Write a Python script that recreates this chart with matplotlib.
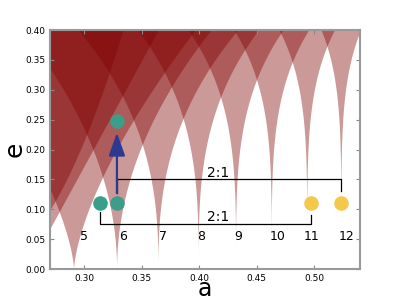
import numpy as np
import matplotlib.pyplot as plt

# resonance centres (a), width coefficient and exponent: half width = k * e**p
res_n = [3, 4, 5, 6, 7, 8, 9, 10, 11, 12]
res_a = [0.207, 0.2507, 0.2905, 0.328, 0.364, 0.399, 0.4316, 0.4627, 0.4936, 0.5233]
res_k = [0.20, 0.284, 0.419, 0.514, 0.686, 0.82, 1.02, 1.27, 1.49, 1.68]
res_p = [0.5, 1.0, 1.5, 2.0, 2.5, 3.0, 3.5, 4.0, 4.5, 5.0]

label_txt = ['5', '6', '7', '8', '9', '10', '11', '12']
label_a = [0.300, 0.3335, 0.368, 0.4015, 0.4343, 0.468, 0.4981, 0.528]
label_e = 0.055

green_a = [0.3137, 0.3283, 0.3284]
green_e = [0.111, 0.111, 0.2477]
yellow_a = [0.4971, 0.5236]
yellow_e = [0.111, 0.111]

fig = plt.figure(figsize=(4, 3), dpi=100)
ax = fig.add_axes([0.125, 0.103, 0.775, 0.797])

e = np.linspace(0, 0.4, 500)
for a0, k, p in zip(res_a, res_k, res_p):
    w = k * e ** p
    ax.fill_betweenx(e, a0 - w, a0 + w, color='#800000', alpha=0.4, lw=0)

# brackets
ax.plot([0.3283, 0.3283, 0.5236, 0.5236], [0.127, 0.150, 0.150, 0.131], color='k', lw=0.9)
ax.plot([0.3137, 0.3137, 0.4976, 0.4976], [0.096, 0.0753, 0.0753, 0.090], color='k', lw=0.9)
ax.text(0.4164, 0.160, '2:1', fontsize=10, ha='center', va='center')
ax.text(0.4164, 0.0865, '2:1', fontsize=10, ha='center', va='center')

ax.annotate('', xy=(0.3283, 0.228), xytext=(0.3283, 0.127),
            arrowprops=dict(arrowstyle='-|>,head_width=0.5,head_length=1.4',
                            color='#2b3990', lw=1.6, shrinkA=0, shrinkB=0))

ax.scatter(green_a, green_e, s=110, color='#3a9e88', zorder=5, lw=0)
ax.scatter(yellow_a, yellow_e, s=110, color='#f4c94a', zorder=5, lw=0)

for t, x in zip(label_txt, label_a):
    ax.text(x, label_e, t, fontsize=9, ha='center', va='center')

ax.set_xlim(0.27, 0.54)
ax.set_ylim(0, 0.4)
ax.set_xticks([0.30, 0.35, 0.40, 0.45, 0.50])
ax.set_yticks(np.arange(0, 0.41, 0.05))
ax.xaxis.set_major_formatter(plt.FormatStrFormatter('%.2f'))
ax.yaxis.set_major_formatter(plt.FormatStrFormatter('%.2f'))
ax.tick_params(direction='in', length=3, labelsize=6.5, top=True, right=True, color='#888888')
for s in ax.spines.values():
    s.set_color('#999999')
    s.set_linewidth(1.5)
ax.set_xlabel('a', fontsize=17, va='baseline')
ax.set_ylabel('e', fontsize=18, va='center')
ax.xaxis.set_label_coords(0.5, -0.113)
ax.yaxis.set_label_coords(-0.115, 0.5)

fig.savefig('out.png', dpi=100)
